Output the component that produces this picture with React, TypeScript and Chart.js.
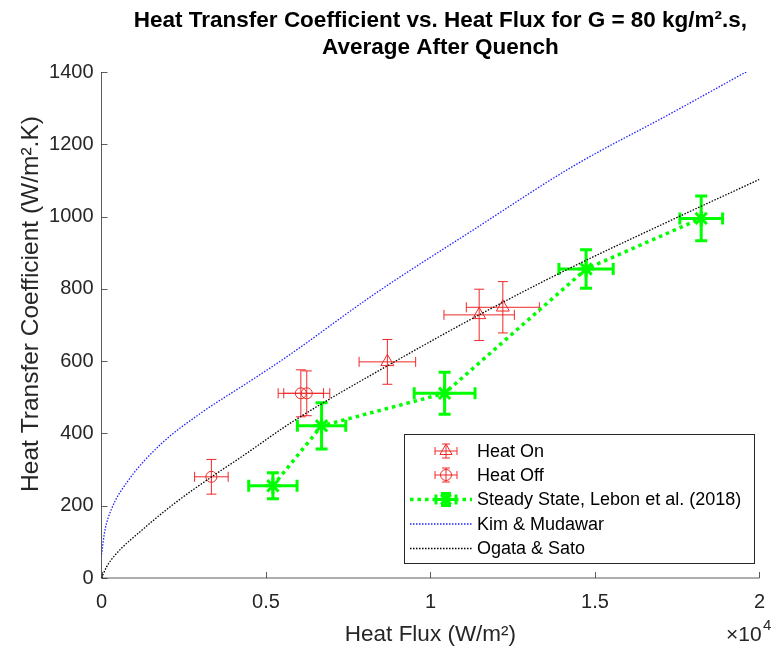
import React, { useEffect, useRef } from "react";
import { Chart, registerables } from "chart.js";

Chart.register(...registerables);

// ---------------- data ----------------
const titleLines = [
  "Heat Transfer Coefficient vs. Heat Flux for G = 80 kg/m².s,",
  "Average After Quench",
];
const xAxisLabel = "Heat Flux (W/m²)";
const yAxisLabel = "Heat Transfer Coefficient (W/m².K)";
const legendLabels = [
  "Heat On",
  "Heat Off",
  "Steady State, Lebon et al. (2018)",
  "Kim & Mudawar",
  "Ogata & Sato",
];
const xTicks = [0, 5000, 10000, 15000, 20000];
const yTicks = [0, 200, 400, 600, 800, 1000, 1200, 1400];

const heatOnQ = [8690, 11480, 12200];
const heatOnH = [598, 728, 749];
const heatOnQErr = [860, 1070, 1110];
const heatOnHErr = [62, 71, 71];

const heatOffQ = [3340, 6060, 6240];
const heatOffH = [280, 511, 511];
const heatOffQErr = [510, 690, 700];
const heatOffHErr = [48, 65, 62];

const steadyQ = [5210, 6690, 10430, 14730, 18230];
const steadyH = [255, 421, 511, 855, 995];
const steadyQErr = [735, 735, 925, 825, 650];
const steadyHErr = [36, 64, 58, 53, 62];

const kimQ = [0, 100, 300, 800, 1800, 3000, 4435, 5630, 8320, 11300, 14330, 17320, 19710];
const kimH = [65, 130, 190, 268, 370, 455, 540, 612, 787, 963, 1139, 1286, 1406];

const ogataQ = [0, 150, 400, 1300, 2300, 3350, 4300, 5800, 8940, 11480, 14030, 17320, 20000];
const ogataH = [0, 30, 62, 138, 212, 280, 338, 432, 600, 728, 848, 990, 1103];

// ---------------- styles ----------------
const FONT = "'Liberation Sans', Arial, Helvetica, sans-serif";
const RED = "rgb(240,40,40)";
const GREEN = "#00ff00";
const BLUE = "#2222ff";
const BLACK = "#000000";
const AXIS = "#262626";

function pts(q: number[], h: number[]) {
  return q.map((v, i) => ({ x: v, y: h[i] }));
}

function drawErr(
  ctx: CanvasRenderingContext2D,
  chart: any,
  q: number[],
  h: number[],
  qe: number[],
  he: number[],
  color: string,
  lw: number,
  cap: number
) {
  const xs = chart.scales.x;
  const ys = chart.scales.y;
  ctx.save();
  ctx.strokeStyle = color;
  ctx.lineWidth = lw;
  ctx.lineCap = "butt";
  ctx.setLineDash([]);
  for (let i = 0; i < q.length; i++) {
    const px = xs.getPixelForValue(q[i]);
    const py = ys.getPixelForValue(h[i]);
    const xl = xs.getPixelForValue(q[i] - qe[i]);
    const xr = xs.getPixelForValue(q[i] + qe[i]);
    const yt = ys.getPixelForValue(h[i] + he[i]);
    const yb = ys.getPixelForValue(h[i] - he[i]);
    ctx.beginPath();
    ctx.moveTo(xl, py);
    ctx.lineTo(xr, py);
    ctx.moveTo(xl, py - cap);
    ctx.lineTo(xl, py + cap);
    ctx.moveTo(xr, py - cap);
    ctx.lineTo(xr, py + cap);
    ctx.moveTo(px, yt);
    ctx.lineTo(px, yb);
    ctx.moveTo(px - cap, yt);
    ctx.lineTo(px + cap, yt);
    ctx.moveTo(px - cap, yb);
    ctx.lineTo(px + cap, yb);
    ctx.stroke();
  }
  ctx.restore();
}

const errPlugin = {
  id: "errbars",
  afterDatasetDraw(chart: any, args: any) {
    const ctx = chart.ctx;
    const label = chart.data.datasets[args.index].label;
    if (label === legendLabels[0]) drawErr(ctx, chart, heatOnQ, heatOnH, heatOnQErr, heatOnHErr, RED, 1, 5);
    if (label === legendLabels[1]) drawErr(ctx, chart, heatOffQ, heatOffH, heatOffQErr, heatOffHErr, RED, 1, 5);
    if (label === legendLabels[2]) drawErr(ctx, chart, steadyQ, steadyH, steadyQErr, steadyHErr, GREEN, 3, 6);
  },
};

const axesPlugin = {
  id: "matlabAxes",
  beforeDatasetsDraw(chart: any) {
    const { ctx, chartArea } = chart;
    const xs = chart.scales.x;
    const ys = chart.scales.y;
    ctx.save();
    ctx.strokeStyle = "rgba(38,38,38,0.75)";
    ctx.lineWidth = 1;
    ctx.beginPath();
    ctx.moveTo(chartArea.left, chartArea.top);
    ctx.lineTo(chartArea.left, chartArea.bottom);
    ctx.lineTo(chartArea.right, chartArea.bottom);
    for (const t of xTicks) {
      const px = Math.round(xs.getPixelForValue(t)) + 0.5;
      ctx.moveTo(px, chartArea.bottom);
      ctx.lineTo(px, chartArea.bottom - 6);
    }
    for (const t of yTicks) {
      const py = Math.round(ys.getPixelForValue(t)) + 0.5;
      ctx.moveTo(chartArea.left, py);
      ctx.lineTo(chartArea.left + 6, py);
    }
    ctx.stroke();
    ctx.restore();
  },
  afterDraw(chart: any) {
    const { ctx, chartArea } = chart;
    const cx = (chartArea.left + chartArea.right) / 2;
    ctx.save();
    // title
    ctx.fillStyle = "#000";
    ctx.font = `bold 22.5px ${FONT}`;
    ctx.textAlign = "center";
    ctx.textBaseline = "alphabetic";
    ctx.fillText(titleLines[0], cx + 10, 27);
    ctx.fillText(titleLines[1], cx + 10, 54);
    // y axis label
    ctx.save();
    ctx.translate(31, 304);
    ctx.rotate(-Math.PI / 2);
    ctx.fillStyle = AXIS;
    ctx.font = `24.5px ${FONT}`;
    ctx.textAlign = "center";
    ctx.textBaseline = "middle";
    ctx.fillText(yAxisLabel, 0, 0);
    ctx.restore();
    // x10^4
    ctx.fillStyle = AXIS;
    ctx.textAlign = "left";
    ctx.font = `21px ${FONT}`;
    ctx.fillText("×10", 726, 641);
    ctx.font = `15px ${FONT}`;
    ctx.fillText("4", 763, 630);
    ctx.restore();

    // legend
    const bx = 404, by = 434, bw = 350, bh = 129;
    ctx.save();
    ctx.fillStyle = "#fff";
    ctx.fillRect(bx, by, bw, bh);
    ctx.strokeStyle = AXIS;
    ctx.lineWidth = 1;
    ctx.strokeRect(bx + 0.5, by + 0.5, bw, bh);
    const rows = [451, 475, 499.5, 524, 548.5];
    const lx0 = 410, lx1 = 472, mx = 446;
    ctx.font = `18px ${FONT}`;
    ctx.fillStyle = "#000";
    ctx.textBaseline = "middle";
    ctx.textAlign = "left";
    legendLabels.forEach((lab, i) => ctx.fillText(lab, 477, rows[i] + 1));

    const errIcon = (y: number, color: string, lw: number, hx: number, hy: number, cap: number) => {
      ctx.strokeStyle = color;
      ctx.lineWidth = lw;
      ctx.setLineDash([]);
      ctx.beginPath();
      ctx.moveTo(mx - hx, y);
      ctx.lineTo(mx + hx, y);
      ctx.moveTo(mx - hx, y - cap);
      ctx.lineTo(mx - hx, y + cap);
      ctx.moveTo(mx + hx, y - cap);
      ctx.lineTo(mx + hx, y + cap);
      ctx.moveTo(mx, y - hy);
      ctx.lineTo(mx, y + hy);
      ctx.moveTo(mx - cap, y - hy);
      ctx.lineTo(mx + cap, y - hy);
      ctx.moveTo(mx - cap, y + hy);
      ctx.lineTo(mx + cap, y + hy);
      ctx.stroke();
    };
    // Heat On
    errIcon(rows[0], RED, 1, 11, 7, 4);
    ctx.beginPath();
    const r = 7;
    ctx.moveTo(mx, rows[0] - r);
    ctx.lineTo(mx + r * 0.866, rows[0] + r * 0.5);
    ctx.lineTo(mx - r * 0.866, rows[0] + r * 0.5);
    ctx.closePath();
    ctx.stroke();
    // Heat Off
    errIcon(rows[1], RED, 1, 11, 7, 4);
    ctx.beginPath();
    ctx.arc(mx, rows[1], 5.5, 0, Math.PI * 2);
    ctx.stroke();
    // Steady
    ctx.strokeStyle = GREEN;
    ctx.lineWidth = 3.5;
    ctx.setLineDash([3.5, 4]);
    ctx.beginPath();
    ctx.moveTo(lx0, rows[2]);
    ctx.lineTo(lx1, rows[2]);
    ctx.stroke();
    errIcon(rows[2], GREEN, 3, 10, 6, 5);
    ctx.beginPath();
    const s = 7;
    ctx.moveTo(mx - s, rows[2]); ctx.lineTo(mx + s, rows[2]);
    ctx.moveTo(mx, rows[2] - s); ctx.lineTo(mx, rows[2] + s);
    ctx.moveTo(mx - s * 0.7, rows[2] - s * 0.7); ctx.lineTo(mx + s * 0.7, rows[2] + s * 0.7);
    ctx.moveTo(mx - s * 0.7, rows[2] + s * 0.7); ctx.lineTo(mx + s * 0.7, rows[2] - s * 0.7);
    ctx.stroke();
    // Kim
    ctx.setLineDash([1.5, 1.5]);
    ctx.lineWidth = 1.3;
    ctx.strokeStyle = BLUE;
    ctx.beginPath();
    ctx.moveTo(lx0, rows[3]);
    ctx.lineTo(lx1, rows[3]);
    ctx.stroke();
    ctx.strokeStyle = BLACK;
    ctx.beginPath();
    ctx.moveTo(lx0, rows[4]);
    ctx.lineTo(lx1, rows[4]);
    ctx.stroke();
    ctx.restore();
  },
};

export default function App() {
  const ref = useRef<HTMLCanvasElement | null>(null);
  useEffect(() => {
    if (!ref.current) return;
    const chart = new Chart(ref.current, {
      type: "scatter",
      data: {
        datasets: [
          {
            label: legendLabels[4],
            data: pts(ogataQ, ogataH),
            showLine: true,
            borderColor: BLACK,
            borderWidth: 1.3,
            borderDash: [1.5, 1.5],
            pointRadius: 0,
            cubicInterpolationMode: "monotone",
            order: 0,
          },
          {
            label: legendLabels[3],
            data: pts(kimQ, kimH),
            showLine: true,
            borderColor: BLUE,
            borderWidth: 1.3,
            borderDash: [1.5, 1.5],
            pointRadius: 0,
            cubicInterpolationMode: "monotone",
            order: 1,
          },
          {
            label: legendLabels[2],
            data: pts(steadyQ, steadyH),
            showLine: true,
            borderColor: GREEN,
            borderWidth: 3.5,
            borderDash: [3.5, 4],
            pointStyle: "star",
            pointRadius: 8,
            pointBorderWidth: 3,
            pointBorderColor: GREEN,
            pointBackgroundColor: GREEN,
            order: 2,
          },
          {
            label: legendLabels[1],
            data: pts(heatOffQ, heatOffH),
            showLine: false,
            pointStyle: "circle",
            pointRadius: 5.5,
            pointBorderWidth: 1,
            pointBorderColor: RED,
            pointBackgroundColor: "rgba(0,0,0,0)",
            order: 3,
          },
          {
            label: legendLabels[0],
            data: pts(heatOnQ, heatOnH),
            showLine: false,
            pointStyle: "triangle",
            pointRadius: 7.5,
            pointBorderWidth: 1,
            pointBorderColor: RED,
            pointBackgroundColor: "rgba(0,0,0,0)",
            order: 4,
          },
        ],
      },
      options: {
        responsive: false,
        animation: false,
        devicePixelRatio: 1,
        events: [],
        layout: { padding: { top: 72, right: 6, left: 0, bottom: 0 } },
        plugins: {
          legend: { display: false },
          tooltip: { enabled: false },
          title: { display: false },
        },
        scales: {
          x: {
            type: "linear",
            min: 0,
            max: 20000,
            afterBuildTicks: (s: any) => {
              s.ticks = xTicks.map((v) => ({ value: v }));
            },
            afterFit: (s: any) => {
              s.height = 74;
            },
            grid: { display: false, drawTicks: false },
            border: { display: false },
            ticks: {
              autoSkip: false,
              maxRotation: 0,
              padding: 12,
              color: AXIS,
              font: { family: FONT, size: 20 },
              callback: (v: any) => String(Number(v) / 10000),
            },
            title: {
              display: true,
              text: xAxisLabel,
              color: AXIS,
              font: { family: FONT, size: 22.5 },
              padding: { top: 0, bottom: 4 },
            },
          },
          y: {
            type: "linear",
            min: 0,
            max: 1400,
            afterBuildTicks: (s: any) => {
              s.ticks = yTicks.map((v) => ({ value: v }));
            },
            afterFit: (s: any) => {
              s.width = 101.5;
            },
            grid: { display: false, drawTicks: false },
            border: { display: false },
            ticks: {
              autoSkip: false,
              padding: 8,
              color: AXIS,
              font: { family: FONT, size: 20 },
              callback: (v: any) => String(v),
            },
          },
        },
      },
      plugins: [errPlugin, axesPlugin],
    } as any);
    return () => chart.destroy();
  }, []);
  return (
    <div style={{ position: "fixed", left: 0, top: 0, width: 777, height: 652, background: "#fff" }}>
      <canvas ref={ref} width={777} height={652} style={{ display: "block" }} />
    </div>
  );
}
